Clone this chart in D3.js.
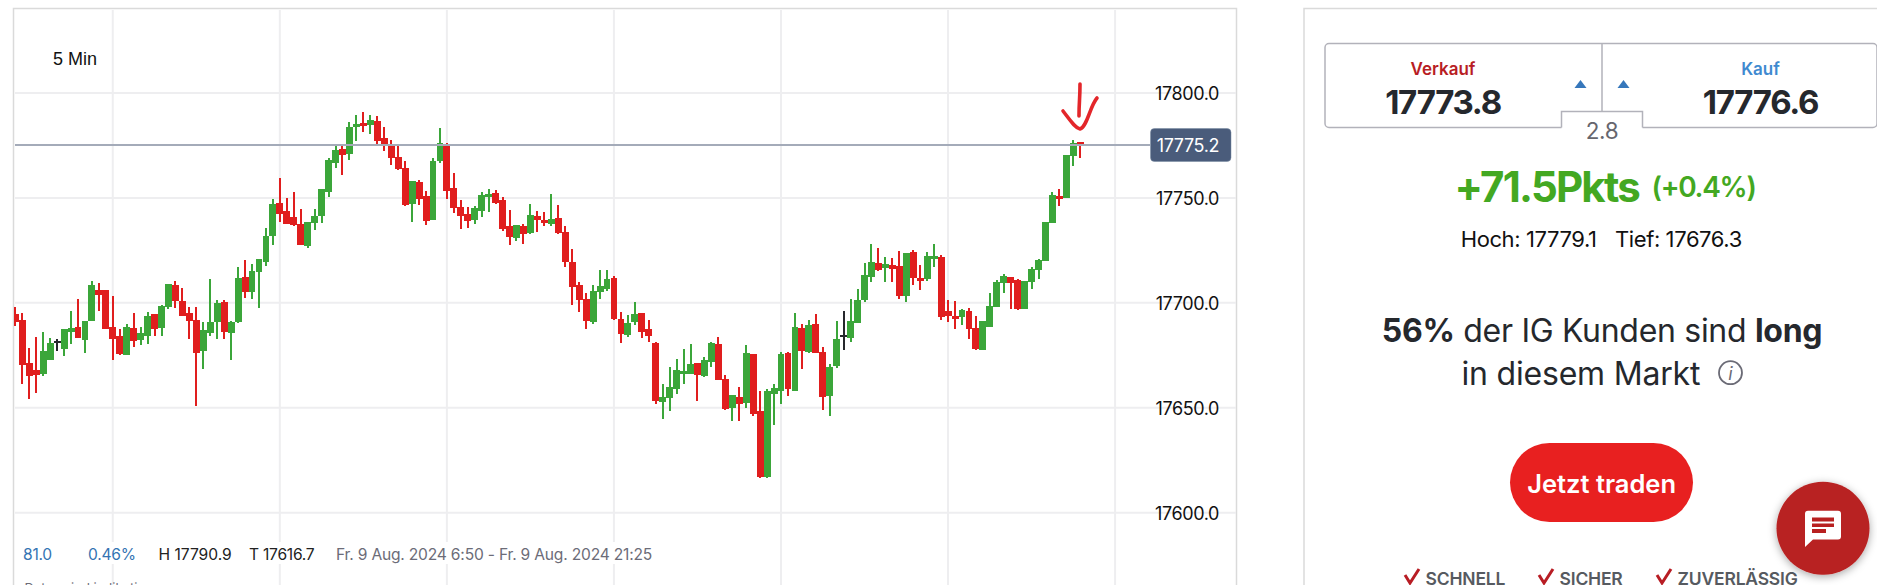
<!DOCTYPE html>
<html><head><meta charset="utf-8">
<script src="https://d3js.org/d3.v7.min.js"></script>
<style>
html,body{margin:0;padding:0;background:#fff;overflow:hidden}
svg{display:block}
text{font-family:Inter,"Noto Sans",sans-serif}
</style></head><body>
<svg id="c" width="1877" height="585"></svg>
<script>
const highs=[17697.8,17695.4,17678.4,17683.7,17686.0,17683.2,17682.7,17687.5,17696.0,17701.7,17691.3,17710.3,17709.4,17706.0,17703.2,17687.5,17689.8,17695.1,17688.4,17695.6,17694.6,17698.9,17708.9,17710.3,17707.0,17697.8,17697.9,17690.8,17711.3,17701.3,17701.3,17691.3,17717.0,17720.3,17718.4,17720.8,17735.6,17749.4,17759.4,17749.8,17752.7,17744.6,17738.4,17744.6,17754.1,17768.9,17774.6,17774.6,17786.0,17789.4,17790.9,17789.4,17788.9,17783.7,17777.5,17775.6,17767.5,17757.9,17758.4,17753.2,17768.9,17783.2,17776.0,17761.7,17748.9,17745.6,17746.0,17752.7,17754.1,17753.7,17750.3,17744.1,17737.0,17737.5,17747.0,17743.7,17743.2,17751.7,17746.5,17736.5,17725.6,17709.8,17704.6,17708.4,17715.6,17715.6,17712.7,17695.6,17694.1,17700.3,17695.1,17691.7,17681.3,17661.3,17669.4,17673.2,17677.9,17680.3,17671.3,17674.1,17681.3,17683.7,17665.6,17656.3,17659.8,17679.8,17675.6,17657.9,17658.9,17661.3,17676.5,17676.5,17695.1,17689.8,17691.7,17694.6,17678.9,17670.8,17691.3,17696.0,17701.7,17706.5,17718.9,17727.9,17726.0,17721.7,17721.3,17724.6,17723.7,17725.1,17717.9,17724.1,17727.9,17722.7,17701.3,17700.8,17697.0,17697.5,17693.7,17691.3,17704.6,17710.8,17713.7,17712.2,17711.3,17710.3,17717.0,17720.8,17738.4,17752.7,17754.1,17770.3,17777.5,17776.5];
const lows=[17688.9,17661.3,17654.1,17657.0,17665.1,17672.7,17677.0,17674.6,17680.3,17683.2,17676.0,17691.3,17696.0,17687.5,17672.7,17675.1,17675.1,17678.9,17679.8,17680.3,17684.1,17684.1,17697.0,17697.5,17693.7,17682.7,17650.8,17668.4,17684.1,17682.7,17682.7,17672.7,17690.3,17702.2,17701.7,17697.5,17717.5,17727.5,17738.4,17737.5,17736.5,17727.5,17726.0,17734.6,17737.9,17750.3,17764.1,17760.8,17767.9,17777.0,17781.3,17780.3,17774.6,17772.2,17765.6,17763.2,17746.0,17738.4,17746.5,17737.0,17739.4,17766.5,17749.4,17742.7,17735.1,17735.6,17737.5,17740.8,17743.2,17747.0,17734.1,17727.5,17729.4,17727.9,17732.7,17733.7,17736.5,17736.5,17732.7,17717.0,17698.9,17695.6,17687.5,17689.8,17701.7,17705.6,17691.7,17680.8,17683.7,17689.4,17683.2,17681.3,17651.7,17644.6,17648.4,17656.5,17661.3,17666.0,17653.2,17664.6,17669.4,17663.2,17648.9,17643.7,17643.7,17649.8,17646.0,17616.7,17616.7,17641.7,17651.7,17655.6,17657.9,17668.4,17676.0,17676.0,17648.9,17646.0,17668.9,17677.5,17681.3,17690.3,17700.3,17709.8,17715.1,17709.8,17709.8,17701.7,17700.3,17708.4,17706.0,17710.3,17717.0,17691.7,17690.8,17687.5,17689.4,17682.7,17677.5,17677.5,17688.4,17697.9,17704.6,17697.0,17696.5,17697.0,17706.5,17711.3,17719.8,17737.9,17746.0,17749.8,17765.1,17768.9];
const opens=[17694.6,17691.7,17671.3,17667.9,17666.0,17672.7,17681.3,17677.9,17686.0,17688.4,17682.2,17691.3,17706.0,17706.0,17688.4,17684.1,17675.1,17687.9,17682.2,17684.1,17694.6,17687.9,17697.9,17708.4,17700.8,17695.1,17691.7,17677.0,17685.6,17690.8,17700.3,17685.6,17690.8,17712.2,17705.1,17714.6,17719.4,17731.7,17747.5,17743.7,17740.8,17737.5,17727.0,17737.9,17741.3,17752.7,17766.5,17773.2,17770.8,17783.7,17785.6,17784.6,17786.5,17778.4,17775.6,17769.4,17764.1,17747.0,17757.5,17750.8,17739.4,17767.5,17775.6,17754.6,17745.6,17742.2,17739.4,17743.7,17750.3,17752.2,17748.9,17736.5,17730.8,17736.5,17733.2,17741.3,17739.4,17737.5,17740.3,17733.7,17719.4,17708.4,17701.7,17690.8,17705.1,17706.5,17711.7,17692.2,17684.6,17690.8,17695.1,17687.5,17680.8,17652.7,17654.6,17658.9,17666.0,17666.0,17671.3,17665.1,17671.7,17680.3,17663.7,17649.8,17655.1,17652.2,17675.6,17648.4,17616.9,17656.5,17657.9,17676.0,17657.9,17687.9,17676.5,17689.8,17676.5,17655.6,17669.8,17684.1,17683.2,17690.3,17701.3,17712.2,17718.9,17716.5,17717.9,17717.5,17703.2,17724.1,17711.7,17711.3,17720.8,17721.7,17696.0,17693.7,17693.2,17696.0,17687.9,17677.5,17688.4,17697.9,17709.4,17712.2,17710.8,17697.0,17709.8,17715.6,17719.8,17737.9,17750.8,17749.8,17769.8,17776.5];
const closes=[17691.0,17670.3,17665.1,17665.6,17677.0,17680.8,17681.3,17687.5,17687.9,17683.2,17691.3,17708.4,17703.7,17687.5,17682.7,17675.6,17688.4,17681.7,17685.6,17693.7,17687.5,17698.4,17708.9,17700.8,17693.7,17691.3,17676.0,17687.0,17690.8,17699.8,17686.0,17690.8,17711.7,17705.1,17715.1,17720.8,17731.7,17747.0,17742.2,17737.5,17737.0,17727.5,17738.4,17741.3,17754.1,17767.9,17772.7,17770.3,17783.7,17785.1,17784.1,17787.0,17777.0,17775.1,17768.9,17763.7,17746.5,17757.9,17749.4,17738.9,17767.5,17776.0,17753.2,17745.1,17741.3,17738.9,17745.1,17751.3,17751.7,17747.5,17735.1,17731.3,17737.0,17732.7,17741.7,17739.4,17737.9,17739.8,17733.2,17719.4,17707.5,17701.3,17691.3,17705.6,17707.9,17711.3,17692.2,17685.1,17690.3,17694.6,17686.0,17684.1,17653.2,17655.1,17659.8,17667.9,17667.5,17670.8,17665.6,17672.7,17680.8,17663.2,17649.4,17656.0,17651.7,17676.0,17647.0,17617.0,17657.9,17659.4,17675.6,17658.9,17688.4,17677.0,17689.4,17676.0,17655.1,17669.4,17682.7,17684.1,17691.3,17701.3,17713.2,17719.4,17715.6,17718.4,17716.0,17703.2,17723.7,17711.7,17710.3,17722.2,17722.2,17693.2,17693.7,17692.2,17696.5,17687.5,17677.9,17691.3,17698.4,17709.8,17712.7,17709.4,17697.0,17710.3,17716.0,17720.3,17738.4,17751.3,17749.4,17770.3,17776.0,17774.6];
const priceTicks=[17800,17750,17700,17650,17600];
const timeGridSlots=[14,38,62,86,110,134,158];
const lastPrice=17775.2;

const upColor="#3ba63a",downColor="#e01e1e",dojiColor="#26282c";
const gridColor="#eeeef0";
const svg=d3.select("#c");
const x=d3.scaleLinear().domain([0,153]).range([15.33,1080.3]);
const y=d3.scaleLinear().domain([17600,17800]).range([512.7,93]);

const frame="#dadada";
svg.append("path").attr("d","M13.5,585V8.5H1236.5V585").attr("fill","none").attr("stroke",frame).attr("stroke-width",1.5);
svg.append("path").attr("d","M1304,585V8.5H1877").attr("fill","none").attr("stroke",frame).attr("stroke-width",1.5);

svg.append("g").selectAll("line").data(timeGridSlots).join("line")
 .attr("x1",d=>x(d)).attr("x2",d=>x(d)).attr("y1",10).attr("y2",585)
 .attr("stroke",gridColor).attr("stroke-width",2);
svg.append("g").selectAll("line").data(priceTicks).join("line")
 .attr("x1",15).attr("x2",1236).attr("y1",d=>y(d)).attr("y2",d=>y(d))
 .attr("stroke",gridColor).attr("stroke-width",2);

svg.append("rect").attr("x",15).attr("y",542).attr("width",660).attr("height",22).attr("fill","#fff");
const foot=(tx,s,col,ls)=>svg.append("text").attr("x",tx).attr("y",560).attr("fill",col).attr("font-size",15.6).attr("letter-spacing",ls).text(s);
foot(23,"81.0","#3474b3",-0.25);foot(88,"0.46%","#3474b3",-0.25);foot(158.5,"H 17790.9","#222",0);foot(249,"T 17616.7","#222",-0.25);
foot(336,"Fr. 9 Aug. 2024 6:50 - Fr. 9 Aug. 2024 21:25","#6c6c78",-0.2);
svg.append("text").attr("x",24.5).attr("y",593).attr("fill","#6c6c78").attr("font-size",13).text("Daten sind indikativ");

const idx=d3.range(highs.length);
const clip=svg.append("defs").append("clipPath").attr("id","pl").append("rect").attr("x",14).attr("y",9).attr("width",1222).attr("height",576);
const col=i=>closes[i]>opens[i]?upColor:closes[i]<opens[i]?downColor:dojiColor;
const cg=svg.append("g").attr("clip-path","url(#pl)").attr("shape-rendering","crispEdges");
cg.selectAll("line.w").data(idx).join("line").attr("class","w")
 .attr("x1",x).attr("x2",x).attr("y1",i=>y(highs[i])).attr("y2",i=>y(lows[i]))
 .attr("stroke",col).attr("stroke-width",2);
cg.selectAll("rect.b").data(idx).join("rect").attr("class","b")
 .attr("x",i=>x(i)-3.4).attr("width",6.9)
 .attr("y",i=>y(Math.max(opens[i],closes[i]))-(opens[i]===closes[i]?1:0))
 .attr("height",i=>Math.max(2,Math.abs(y(opens[i])-y(closes[i]))))
 .attr("fill",col);

svg.append("line").attr("x1",15).attr("x2",1150).attr("y1",y(lastPrice)).attr("y2",y(lastPrice)).attr("stroke","#a4abb9").attr("stroke-width",2);

const ax=svg.append("g").attr("transform","translate(1219,0)")
 .call(d3.axisLeft(y).tickValues(priceTicks).tickFormat(d3.format(".1f")).tickSize(0).tickPadding(0));
ax.select(".domain").remove();
ax.selectAll("text").attr("font-size",18).attr("fill","#111").attr("font-family","Inter").attr("letter-spacing",-0.4).attr("dy","0.37em");

svg.append("rect").attr("x",1150.5).attr("y",128.5).attr("width",80.5).attr("height",33).attr("rx",4).attr("fill","#4a5c7b").attr("stroke","#7788a0").attr("stroke-width",0.5);
svg.append("text").attr("x",1219).attr("y",y(lastPrice)+6.5).attr("text-anchor","end").attr("fill","#fff").attr("font-size",18).attr("letter-spacing",-0.4).text(d3.format(".1f")(lastPrice));

svg.append("g").attr("fill","none").attr("stroke","#e3262a").attr("stroke-width",3.6).attr("stroke-linecap","round").attr("stroke-linejoin","round")
 .call(g=>{g.append("path").attr("d","M1080,84C1080,100 1079,101 1079,116");
 g.append("path").attr("d","M1063,111C1070,120 1075,128 1080,129C1087,127 1090,106 1097,98");});

svg.append("text").attr("x",53).attr("y",65).attr("font-size",18).attr("fill","#111").style("font-family","Liberation Sans").text("5 Min");

const ink="#25282d";
const T=(tx,ty,s,size,fill,weight,anchor,ls)=>svg.append("text").attr("x",tx).attr("y",ty).attr("font-size",size).attr("fill",fill).attr("font-weight",weight||400).attr("text-anchor",anchor||"start").attr("letter-spacing",ls||0).text(s);
const bc="#b2b2ba";
svg.append("path").attr("d","M1561.5,127.5H1329a4,4 0 0 1 -4,-4V47.5a4,4 0 0 1 4,-4H1873a4,4 0 0 1 4,4V123.5a4,4 0 0 1 -4,4H1642.5").attr("fill","none").attr("stroke",bc).attr("stroke-width",1.5);
svg.append("path").attr("d","M1602,43.5V111M1561.5,127.5V111.5H1642.5V127.5").attr("fill","none").attr("stroke",bc).attr("stroke-width",1.5);
T(1443,75,"Verkauf",17,"#b81d24",600,"middle");
T(1760.5,75,"Kauf",17,"#3f8ad0",600,"middle");
T(1443,113.5,"17773.8",33,ink,700,"middle",-1.3);
T(1760.5,113.5,"17776.6",33,ink,700,"middle",-1.3);
svg.append("path").attr("d","M1574.5,88L1580.5,80L1586.5,88ZM1617.5,88L1623.5,80L1629.5,88Z").attr("fill","#3677bb");
T(1602,139,"2.8",22.5,"#66666e",400,"middle",-0.3);
T(1454.5,202,"+71.5Pkts",42,"#43a822",700,"start",-1.8);
T(1651.5,197,"(+0.4%)",28,"#43a822",600,"start",-1.3);
T(1460.7,247,"Hoch: 17779.1",22,"#111",400,"start",-0.4);
T(1615,247,"Tief: 17676.3",22,"#111",400,"start",-0.4);
const l1=T(1602,341.5,"",32,ink,400,"middle",-0.3);
l1.append("tspan").attr("font-weight",700).text("56%");
l1.append("tspan").text(" der IG Kunden sind ");
l1.append("tspan").attr("font-weight",700).text("long");
T(1461.5,384.5,"in diesem Markt",32,ink,400,"start",-0.2);
svg.append("circle").attr("cx",1730.5).attr("cy",372.7).attr("r",11.5).attr("fill","none").attr("stroke","#6b6b76").attr("stroke-width",1.8);
svg.append("text").attr("x",1730.5).attr("y",379.5).attr("text-anchor","middle").attr("font-size",18).attr("font-style","italic").attr("fill","#6b6b76").text("i");
svg.append("rect").attr("x",1510).attr("y",443).attr("width",183).attr("height",79).attr("rx",39.5).attr("fill","#e82020");
T(1601.6,492.5,"Jetzt traden",25.5,"#fff",600,"middle");

const checks=[[1405,"SCHNELL",1425.6],[1539,"SICHER",1559.6],[1657,"ZUVERLÄSSIG",1677.6]];
checks.forEach(([cx,s,tx])=>{
 svg.append("path").attr("d",`M${cx},575L${cx+5},583L${cx+14},569`).attr("fill","none").attr("stroke","#b81d24").attr("stroke-width",3);
 T(tx,585,s,17.5,"#565a60",600,"start",-0.2);
});

const defs=svg.select("defs");
const f=defs.append("filter").attr("id","sh").attr("x","-30%").attr("y","-30%").attr("width","160%").attr("height","160%");
f.append("feDropShadow").attr("dx",0).attr("dy",2).attr("stdDeviation",4).attr("flood-color","#000").attr("flood-opacity",0.35);
svg.append("circle").attr("cx",1823).attr("cy",528.3).attr("r",46.5).attr("fill","#b82020").attr("filter","url(#sh)");
svg.append("path").attr("d","M1808,510.7H1838a3,3 0 0 1 3,3V536.5a3,3 0 0 1 -3,3H1813L1805,547V513.7a3,3 0 0 1 3,-3Z").attr("fill","#fff");
svg.append("path").attr("d","M1812,517.5H1834V521.5H1812ZM1812,523.5H1834V527H1812ZM1812,529H1826V533H1812Z").attr("fill","#b82020");
</script>
</body></html>
